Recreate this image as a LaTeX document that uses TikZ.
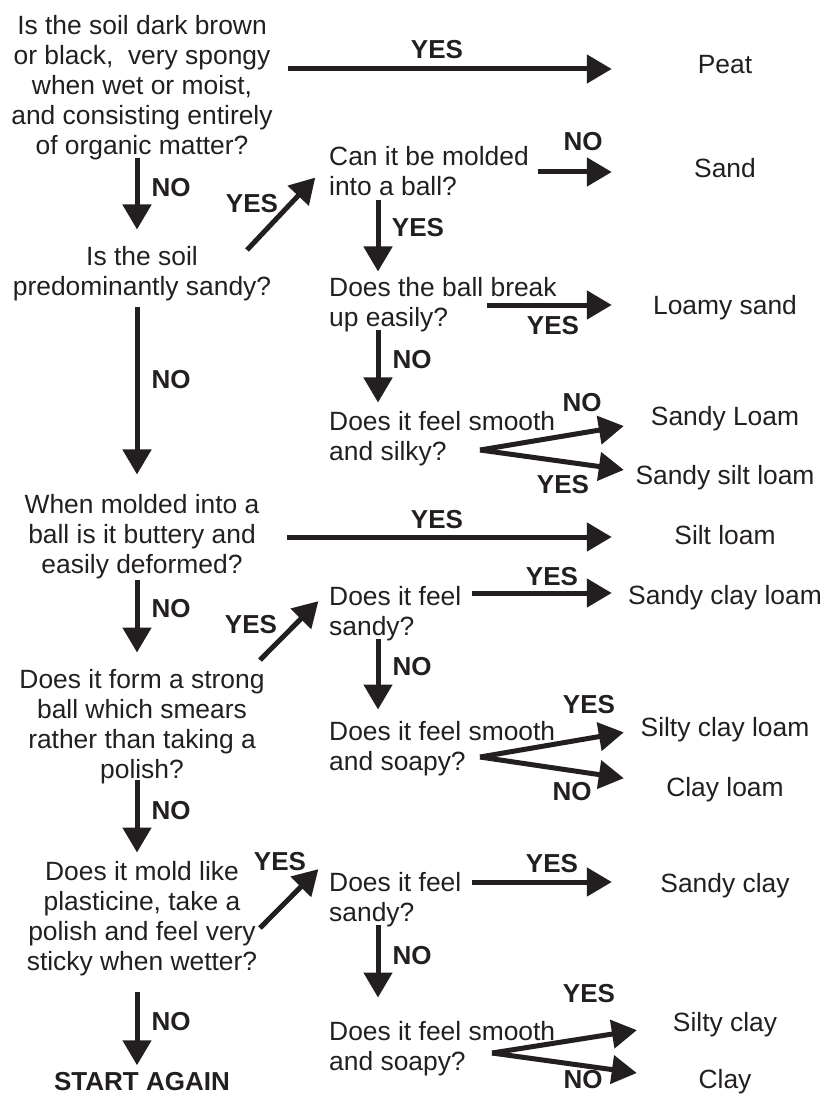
\documentclass[tikz,border=0pt]{standalone}
\usepackage{fontspec}
\setmainfont{Liberation Sans}
\usetikzlibrary{arrows.meta}
\definecolor{ink}{RGB}{35,31,32}

\begin{document}
\begin{tikzpicture}[x=1pt, y=-1pt,
		quest/.style={inner sep=0pt, text=ink, font=\fontsize{26.4}{30}\selectfont},
		qmid/.style={quest, align=center},
		qleft/.style={quest, align=left, anchor=west},
		result/.style={quest, text height=19pt, text depth=6pt, anchor=base},
		lab/.style={inner sep=0pt, text=ink, font=\bfseries\fontsize{26}{30}\selectfont},
		arr/.style={draw=ink, line width=5pt, -{Triangle[length=25pt,width=28pt]}}]
			\useasboundingbox (0,0) rectangle (825,1094);
			\node[qmid] (organic) at (142,88) {Is the soil dark brown\\or black,\ \ very spongy\\when wet or moist,\\and consisting entirely\\of organic matter?};
			\node[qmid] (sandy) at (142,274) {Is the soil\\predominantly sandy?};
			\node[qmid] (buttery) at (142,537) {When molded into a\\ball is it buttery and\\easily deformed?};
			\node[qmid] (strong) at (142,727) {Does it form a strong\\ball which smears\\rather than taking a\\polish?};
			\node[qmid] (plastic) at (142,919) {Does it mold like\\plasticine, take a\\polish and feel very\\sticky when wetter?};
			\node[lab, anchor=base] (again) at (142,1090) {START AGAIN};
			\node[qleft] (molded) at (329,171) {Can it be molded\\into a ball?};
			\node[qleft] (breaks) at (329,305) {Does the ball break\\up easily?};
			\node[qleft] (silky) at (329,439) {Does it feel smooth\\and silky?};
			\node[qleft] (gritty) at (329,614) {Does it feel\\sandy?};
			\node[qleft] (soapy) at (329,749) {Does it feel smooth\\and soapy?};
			\node[qleft] (grittyb) at (329,900) {Does it feel\\sandy?};
			\node[qleft] (soapyb) at (329,1049) {Does it feel smooth\\and soapy?};
			\node[result] (peat) at (725,74) {Peat};
			\node[result] (sand) at (725,178) {Sand};
			\node[result] (loamysand) at (725,314) {Loamy sand};
			\node[result] (sandyloam) at (725,425) {Sandy Loam};
			\node[result] (sandysiltloam) at (725,484) {Sandy silt loam};
			\node[result] (siltloam) at (725,544) {Silt loam};
			\node[result] (sandyclayloam) at (725,604) {Sandy clay loam};
			\node[result] (siltyclayloam) at (725,736) {Silty clay loam};
			\node[result] (clayloam) at (725,796) {Clay loam};
			\node[result] (sandyclay) at (725,892) {Sandy clay};
			\node[result] (siltyclay) at (725,1031) {Silty clay};
			\node[result] (clay) at (725,1088) {Clay};
			\draw[arr, shorten <=-2.5pt, shorten >=17pt] ([xshift=-5pt]organic.south) -- ([xshift=-5pt]sandy.north);
			\draw[arr, shorten <=5.5pt, shorten >=20pt] ([xshift=-5pt]sandy.south) -- ([xshift=-5pt]buttery.north);
			\draw[arr, shorten <=0.5pt, shorten >=17pt] ([xshift=-5pt]buttery.south) -- ([xshift=-5pt]strong.north);
			\draw[arr, shorten <=-4.5pt, shorten >=9pt] ([xshift=-5pt]strong.south) -- ([xshift=-5pt]plastic.north);
			\draw[arr, shorten <=15.5pt, shorten >=6.4pt] ([xshift=-5pt]plastic.south) -- ([xshift=-5pt]again.north);
			\draw[arr, shorten <=4pt, shorten >=6pt] ([xshift=49pt]molded.south west) -- ([xshift=49pt]breaks.north west);
			\draw[arr, shorten <=-2.5pt, shorten >=9pt] ([xshift=49pt]breaks.south west) -- ([xshift=49pt]silky.north west);
			\draw[arr, shorten <=-2.5pt, shorten >=12pt] ([xshift=49pt]gritty.south west) -- ([xshift=49pt]soapy.north west);
			\draw[arr, shorten <=-2.5pt, shorten >=24pt] ([xshift=49pt]grittyb.south west) -- ([xshift=49pt]soapyb.north west);
			\coordinate (d1) at (247,250);
			\coordinate (d2) at (260,660);
			\coordinate (d3) at (260,928);
			\draw[arr, shorten >=20pt] (d1) -- ([yshift=8pt]molded.west);
			\draw[arr, shorten >=15pt] (d2) -- ([yshift=-4pt]gritty.north west);
			\draw[arr, shorten >=15pt] (d3) -- ([yshift=14pt]grittyb.north west);
			\coordinate (h1) at (288,69);
			\coordinate (h2) at (538,172);
			\coordinate (h3) at (487,305);
			\coordinate (h4) at (287,537);
			\coordinate (h5) at (472,593);
			\coordinate (h6) at (472,882);
			\draw[arr, shorten >=85.9pt] (h1) -- (h1 -| peat.west);
			\draw[arr, shorten >=82.2pt] (h2) -- (h2 -| sand.west);
			\draw[arr, shorten >=41.1pt] (h3) -- (h3 -| loamysand.west);
			\draw[arr, shorten >=62.4pt] (h4) -- (h4 -| siltloam.west);
			\draw[arr, shorten >=16.2pt] (h5) -- (h5 -| sandyclayloam.west);
			\draw[arr, shorten >=48.4pt] (h6) -- (h6 -| sandyclay.west);
			\coordinate (f1) at (480,450);
			\coordinate (f2) at (480,757);
			\coordinate (f3) at (492,1053);
			\draw[arr, shorten >=27.3pt] (f1) -- ([yshift=-3pt]sandyloam.west);
			\draw[arr, shorten >=11.6pt] (f1) -- ([yshift=6pt]sandysiltloam.west);
			\draw[arr, shorten >=16.9pt] (f2) -- (siltyclayloam.west);
			\draw[arr, shorten >=42.8pt] (f2) -- ([yshift=5pt]clayloam.west);
			\draw[arr, shorten >=36.3pt] (f3) -- (siltyclay.west);
			\draw[arr, shorten >=62.2pt] (f3) -- (clay.west);
			\node[lab] (y1) at (437,50) {YES};
			\node[lab] (n1) at (171,188) {NO};
			\node[lab] (y2) at (252,204) {YES};
			\node[lab] (n2) at (583,142) {NO};
			\node[lab] (y3) at (418,228) {YES};
			\node[lab] (y4) at (553,326) {YES};
			\node[lab] (n3) at (412,360) {NO};
			\node[lab] (n4) at (171,380) {NO};
			\node[lab] (n5) at (582,403) {NO};
			\node[lab] (y5) at (563,485) {YES};
			\node[lab] (y6) at (437,520) {YES};
			\node[lab] (n6) at (171,609) {NO};
			\node[lab] (y7) at (251,625) {YES};
			\node[lab] (y8) at (552,577) {YES};
			\node[lab] (n7) at (412,667) {NO};
			\node[lab] (y9) at (589,705) {YES};
			\node[lab] (n8) at (572,792) {NO};
			\node[lab] (n9) at (171,811) {NO};
			\node[lab] (y10) at (280,862) {YES};
			\node[lab] (y11) at (552,864) {YES};
			\node[lab] (n10) at (412,956) {NO};
			\node[lab] (y12) at (589,994) {YES};
			\node[lab] (n11) at (583,1080) {NO};
			\node[lab] (n12) at (171,1022) {NO};
		\end{tikzpicture}
\end{document}
